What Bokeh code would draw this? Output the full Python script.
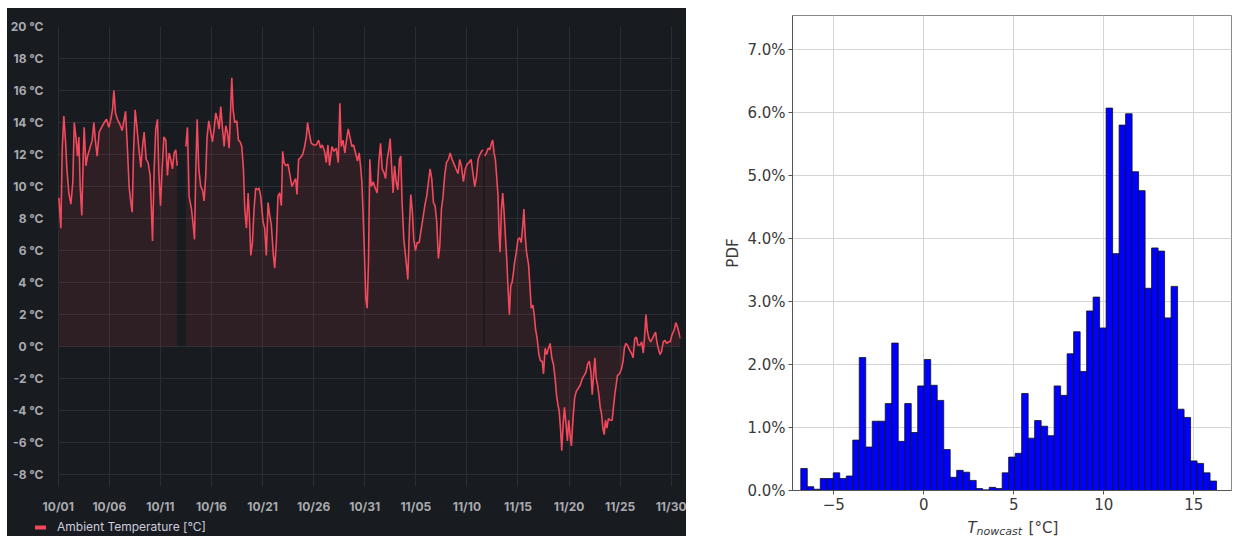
import numpy as np
import pandas as pd
from bokeh.plotting import figure
from bokeh.layouts import row, column
from bokeh.models import (FixedTicker, DatetimeTickFormatter, PrintfTickFormatter,
                          NumeralTickFormatter, Legend, LegendItem, Label, Range1d)
from bokeh.embed import file_html
from bokeh.resources import INLINE

# ---------------- data: ambient temperature time series ----------------
START = pd.Timestamp("2022-10-01")
# offsets in days from 10/01 00:00 ; None = data gap
day_offsets = [
    0.07, 0.26, 0.39, 0.55, 0.72, 0.85, 1.04, 1.24, 1.43, 1.57, 1.73, 1.89, 2.02, 2.15, 2.31, 2.45,
    2.54, 2.71, 2.87, 3.10, 3.33, 3.49, 3.65, 3.81, 4.01, 4.24, 4.50, 4.73, 4.96, 5.15, 5.31, 5.45,
    5.61, 5.80, 6.03, 6.26, 6.46, 6.59, 6.78, 6.94, 7.11, 7.24, 7.37, 7.53, 7.69, 7.89, 8.09, 8.22,
    8.41, 8.61, 8.80, 9.00, 9.13, 9.23, 9.39, 9.55, 9.72, 9.85, 10.01, 10.17, 10.34, 10.53, 10.69,
    10.86, 11.02, 11.18, 11.35, 11.51, 11.64, 12.00,
    12.49, 12.65, 12.81, 13.04, 13.21, 13.34, 13.47, 13.60, 13.76, 13.95, 14.12, 14.28, 14.44,
    14.57, 14.74, 14.93, 15.10, 15.26, 15.42, 15.59, 15.75, 15.91, 16.07, 16.24, 16.40, 16.56,
    16.73, 16.86, 16.99, 17.12, 17.28, 17.48, 17.64, 17.80, 17.97, 18.13, 18.26, 18.42, 18.59,
    18.72, 18.85, 19.01, 19.17, 19.33, 19.50, 19.66, 19.82,
    20.05, 20.21, 20.37, 20.54, 20.70, 20.86, 21.06, 21.19, 21.35, 21.51, 21.68, 21.84, 21.97,
    22.10, 22.30, 22.49, 22.69, 22.88, 23.08, 23.24, 23.37, 23.53, 23.70, 23.93, 24.12, 24.28,
    24.41, 24.58, 24.77, 25.03, 25.26, 25.49, 25.68, 25.85, 26.07, 26.24, 26.40, 26.56, 26.79,
    26.99, 27.21, 27.41, 27.57, 27.70, 27.87, 28.06, 28.22, 28.39, 28.55, 28.75, 28.91, 29.10,
    29.30, 29.46, 29.59, 29.72, 29.85, 29.98, 30.11, 30.24, 30.37, 30.50, 30.64, 30.83, 31.03,
    31.22, 31.38, 31.55, 31.71, 31.87, 32.04, 32.20, 32.36, 32.49, 32.65, 32.78, 32.92, 33.08,
    33.24, 33.40, 33.53, 33.66, 33.83, 33.99, 34.12, 34.22, 34.38, 34.51, 34.67, 34.80, 34.97,
    35.13, 35.33, 35.52, 35.72, 35.88, 36.07, 36.24, 36.40, 36.56, 36.73, 36.89, 37.05, 37.21,
    37.35, 37.51, 37.67, 37.83, 38.00, 38.19, 38.36, 38.55, 38.75, 38.94, 39.14, 39.30, 39.46,
    39.66, 39.85, 40.02, 40.21, 40.41, 40.60, 40.77,
    40.94, 41.10, 41.27, 41.43, 41.59, 41.70, 41.75, 41.92, 42.08, 42.24, 42.40, 42.53, 42.66,
    42.79, 42.92, 43.05, 43.15, 43.25, 43.38, 43.51, 43.64, 43.77, 43.90, 44.03, 44.16, 44.29,
    44.42, 44.55, 44.68, 44.84, 45.00, 45.16, 45.32, 45.49, 45.58, 45.71, 45.84, 46.04, 46.17,
    46.30, 46.46, 46.59, 46.72, 46.88, 47.05, 47.21, 47.37, 47.50, 47.66, 47.82, 47.99, 48.15,
    48.31, 48.47, 48.64, 48.77, 48.90, 49.03, 49.16, 49.29, 49.42, 49.55, 49.71, 49.84, 49.97,
    50.10, 50.23, 50.39, 50.55, 50.71, 50.91, 51.10, 51.30, 51.49, 51.66, 51.82, 51.98, 52.14,
    52.27, 52.40, 52.53, 52.66, 52.79, 52.92, 53.05, 53.18, 53.31, 53.44, 53.57, 53.70, 53.86,
    54.03, 54.22, 54.35, 54.48, 54.61, 54.74, 54.94, 55.13, 55.29, 55.42, 55.55, 55.71, 55.91,
    56.10, 56.27, 56.43, 56.59, 56.75, 56.95, 57.11, 57.27, 57.40, 57.53, 57.66, 57.82, 57.99,
    58.15, 58.31, 58.47, 58.60, 58.73, 58.90, 59.06, 59.22, 59.38, 59.55, 59.74, 59.90, 60.06,
    60.19, 60.32, 60.45, 60.58, 60.75, 60.91,
]
temperatures = [
    9.3, 7.4, 12.3, 14.4, 12.8, 11.1, 9.6, 8.9, 10.3, 14.0, 13.1, 11.9, 13.1, 10.0, 8.2, 11.9,
    13.7, 11.3, 11.9, 12.4, 12.9, 14.0, 12.8, 11.9, 13.4, 13.7, 14.0, 14.2, 13.7, 14.2, 14.8, 16.0,
    14.6, 14.2, 13.9, 13.5, 14.2, 14.7, 12.3, 10.0, 9.0, 8.4, 12.1, 14.8, 13.8, 12.4, 11.2, 12.3,
    13.4, 11.7, 11.5, 10.7, 8.4, 6.6, 11.1, 13.6, 14.2, 10.9, 8.8, 11.1, 13.1, 12.9, 10.7,
    12.1, 11.7, 11.1, 12.1, 12.3, 11.3, None,
    12.5, 13.7, 9.4, 8.6, 7.6, 6.7, 11.1, 14.2, 11.1, 10.0, 9.8, 9.1, 10.7,
    13.1, 14.1, 13.4, 12.8, 13.6, 14.6, 14.2, 13.6, 15.0, 13.7, 12.5, 13.8, 13.4,
    12.4, 14.6, 16.8, 14.8, 14.0, 14.1, 12.9, 12.8, 12.5, 11.1, 8.6, 7.4, 9.6,
    8.0, 5.7, 6.5, 8.6, 9.9, 9.8, 9.9, 9.4,
    7.8, 7.4, 5.7, 9.0, 8.2, 7.6, 5.7, 4.9, 6.5, 9.4, 9.6, 8.8, 12.2,
    11.5, 11.3, 11.4, 10.7, 10.0, 10.3, 10.5, 9.5, 11.7, 11.8, 12.0, 12.5, 13.1,
    14.0, 13.3, 12.7, 12.6, 12.6, 12.9, 12.4, 12.6, 12.2, 11.5, 12.6, 11.3, 12.5,
    12.2, 12.4, 11.5, 15.2, 12.5, 12.9, 12.1, 12.9, 13.6, 13.1, 12.5, 12.6, 12.1,
    11.6, 12.1, 11.3, 10.3, 8.2, 5.7, 3.0, 2.4, 5.3, 11.7, 10.0, 10.3, 9.9,
    9.6, 11.5, 12.7, 11.1, 10.9, 10.5, 11.7, 12.3, 13.0, 11.1, 9.6, 11.3, 10.3,
    9.8, 11.7, 11.9, 9.0, 6.7, 5.7, 4.9, 4.2, 7.6, 9.5, 8.4, 6.7, 6.0,
    6.5, 6.5, 7.3, 8.1, 8.8, 9.4, 10.3, 11.1, 10.5, 9.0, 8.8, 7.8, 5.5,
    6.3, 8.6, 9.4, 10.7, 11.5, 11.7, 12.1, 11.7, 11.4, 11.1, 10.8, 11.7, 11.3,
    10.3, 11.1, 11.4, 11.5, 11.7, 10.8, 10.0,
    10.6, 11.7, 12.0, 12.2, 12.3, None, 11.9, 12.1, 12.4, 12.3, 12.7, 12.9, 12.1,
    11.7, 10.6, 9.4, 7.1, 5.9, 8.6, 9.6, 8.4, 6.9, 5.5, 3.6, 2.0, 3.8,
    4.0, 4.6, 5.3, 5.9, 6.7, 6.8, 6.5, 7.7, 8.6, 6.9, 5.9, 5.1, 3.8,
    2.4, 2.6, 2.0, 1.1, 0.5, -0.5, -0.9, -0.9, -1.7, -0.1, -0.5, -0.1, 0.2,
    -0.7, -1.1, -2.0, -3.0, -3.6, -4.0, -5.1, -6.5, -4.9, -3.8, -4.9, -5.9, -4.6,
    -5.5, -6.2, -4.5, -3.2, -2.8, -2.6, -2.4, -2.0, -1.8, -1.6, -1.1, -0.9, -1.6,
    -3.0, -1.8, -0.7, -2.0, -2.4, -3.0, -3.8, -4.2, -5.1, -5.5, -4.6, -5.1, -4.5,
    -4.6, -4.6, -3.8, -3.0, -2.4, -1.8, -1.7, -1.4, -0.9, -0.1, 0.2, 0.1, -0.2,
    -0.4, -0.7, 0.5, 0.6, 0.1, 0.1, 0.3, -0.4, 0.7, 2.0, 1.0, 0.5, 0.3,
    0.5, 0.7, 0.9, 0.3, -0.1, -0.5, -0.3, 0.3, 0.4, 0.2, 0.3, 0.3, 0.7,
    0.9, 1.1, 1.5, 1.3, 0.9, 0.5,
]
x_tick_dates = ["2022-10-01", "2022-10-06", "2022-10-11", "2022-10-16", "2022-10-21",
                "2022-10-26", "2022-10-31", "2022-11-05", "2022-11-10", "2022-11-15",
                "2022-11-20", "2022-11-25", "2022-11-30"]
temp_ticks = [-8, -6, -4, -2, 0, 2, 4, 6, 8, 10, 12, 14, 16, 18, 20]
series_name = "Ambient Temperature [°C]"

# ---------------- data: histogram of T_nowcast ----------------
bin_first_edge = -6.83
bin_last_edge = 16.26
pdf_percent = [
    0.35, 0.06, 0.02, 0.19, 0.19, 0.28, 0.19, 0.23,
    0.80, 2.11, 0.69, 1.10, 1.10, 1.38, 2.34, 0.78,
    1.38, 0.92, 1.66, 2.08, 1.67, 1.43, 0.65, 0.21,
    0.32, 0.29, 0.16, 0.03, 0.01, 0.05, 0.03, 0.28,
    0.53, 0.59, 1.54, 0.83, 1.11, 1.02, 0.87, 1.66,
    1.51, 2.17, 2.52, 1.89, 2.85, 3.07, 2.58, 6.07,
    3.76, 5.80, 5.98, 5.06, 4.76, 3.21, 3.85, 3.80,
    2.74, 3.24, 1.29, 1.16, 0.47, 0.43, 0.28, 0.15,
]
hist_x_ticks = [-5, 0, 5, 10, 15]
hist_y_ticks = [0.0, 0.01, 0.02, 0.03, 0.04, 0.05, 0.06, 0.07]
x_label_parts = ["T", "nowcast", "[°C]"]


def to_ms(ts):
    return (pd.Timestamp(ts) - pd.Timestamp("1970-01-01")) / pd.Timedelta(milliseconds=1)


RED = "#F2495C"
DARK = "#181b1f"
GRID = "#2b2e33"
INK = "#3a3a3a"

# ---------------- left panel (Grafana style) ----------------
vals = np.array([np.nan if v is None else v for v in temperatures], dtype=float)
times = np.array([to_ms(START) + d * 86400000.0 for d in day_offsets])

p1 = figure(width=679, height=508, output_backend="svg", toolbar_location=None,
            x_range=Range1d(to_ms(START) - 0.07 * 86400000.0, to_ms(START) + 60.91 * 86400000.0),
            y_range=Range1d(-8.74, 20),
            min_border_left=49, min_border_right=6, min_border_top=18, min_border_bottom=26,
            background_fill_color=DARK, border_fill_color=DARK, outline_line_color=None)
p1.margin = (8, 0, 0, 7)
p1.styles = {"background-color": DARK}

good = ~np.isnan(vals)
idx = np.arange(len(vals))
seg_start = 0
for i in list(idx[~good]) + [len(vals)]:
    seg = slice(seg_start, i)
    if i - seg_start > 1:
        p1.varea(x=times[seg], y1=0, y2=vals[seg], fill_color=RED, fill_alpha=0.1)
    seg_start = i + 1

p1.line(times, vals, line_color=RED, line_width=1.6)

xt = FixedTicker(ticks=[to_ms(d) for d in x_tick_dates])
p1.xaxis.ticker = xt
p1.xgrid.ticker = xt
fmt = "%m/%d"
p1.xaxis.formatter = DatetimeTickFormatter(milliseconds=fmt, seconds=fmt, minsec=fmt, minutes=fmt,
                                           hourmin=fmt, hours=fmt, days=fmt, months=fmt, years=fmt)
yt = FixedTicker(ticks=temp_ticks)
p1.yaxis.ticker = yt
p1.ygrid.ticker = yt
p1.yaxis.formatter = PrintfTickFormatter(format="%d °C")
for ax in (p1.xaxis, p1.yaxis):
    ax.axis_line_color = None
    ax.major_tick_line_color = None
    ax.minor_tick_line_color = None
    ax.major_label_text_font = "Inter"
    ax.major_label_text_font_size = "12px"
    ax.major_label_text_font_style = "bold"
    ax.major_label_text_color = "#a9aab0"
p1.xaxis.major_label_standoff = 6
p1.yaxis.major_label_standoff = 8
p1.xgrid.grid_line_color = GRID
p1.ygrid.grid_line_color = GRID

# legend strip under the Grafana panel (no axes: frame = whole strip)
p1_leg = figure(width=679, height=20, output_backend="svg", toolbar_location=None,
                x_range=Range1d(0, 1), y_range=Range1d(0, 1),
                x_axis_location=None, y_axis_location=None,
                min_border_left=0, min_border_right=0, min_border_top=0, min_border_bottom=0,
                background_fill_color=DARK, border_fill_color=DARK, outline_line_color=None)
p1_leg.styles = {"background-color": DARK}
p1_leg.grid.visible = False
# legend proxy: the series itself, drawn far outside this strip's (0..1) view
leg_r = p1_leg.line(times, vals, line_color=RED, line_width=4, line_cap="round")
legend = Legend(items=[LegendItem(label=series_name, renderers=[leg_r])],
                location=(28, 2), padding=0, spacing=0, margin=0,
                glyph_width=11, glyph_height=14, label_height=14, label_standoff=11,
                label_text_font="Inter", label_text_font_size="12px", label_text_color="#ccccdc",
                border_line_alpha=0, background_fill_alpha=0)
p1_leg.add_layout(legend)
leg_box = row(p1_leg, spacing=0)
leg_box.margin = (0, 0, 0, 7)

# ---------------- right panel (matplotlib style histogram) ----------------
edges = np.linspace(bin_first_edge, bin_last_edge, len(pdf_percent) + 1)
pdf = np.array(pdf_percent) / 100.0
hx_range = Range1d(-7.29, 17.09)

p2 = figure(width=547, height=512, output_backend="svg", toolbar_location=None,
            x_range=hx_range, y_range=Range1d(0, 0.0754),
            min_border_left=106, min_border_right=2, min_border_top=15, min_border_bottom=22,
            background_fill_color="white", border_fill_color="white",
            outline_line_color="#8a8a8a", outline_line_width=1)
p2.quad(left=edges[:-1], right=edges[1:], bottom=0, top=pdf,
        fill_color="#0000ff", line_color="#111111", line_width=0.8)

hx = FixedTicker(ticks=hist_x_ticks)
hy = FixedTicker(ticks=hist_y_ticks)
p2.xaxis.ticker = hx
p2.xgrid.ticker = hx
p2.yaxis.ticker = hy
p2.ygrid.ticker = hy
p2.xaxis.major_label_overrides = {t: (f"\u2212{abs(t)}" if t < 0 else str(t)) for t in hist_x_ticks}
p2.yaxis.formatter = NumeralTickFormatter(format="0.0%")
for ax in (p2.xaxis, p2.yaxis):
    ax.axis_line_color = "#555555"
    ax.major_tick_line_color = "#555555"
    ax.major_tick_out = 4
    ax.major_tick_in = 0
    ax.minor_tick_line_color = None
    ax.major_label_text_font = "DejaVu Sans"
    ax.major_label_text_font_size = "15px"
    ax.major_label_text_color = INK
    ax.major_label_standoff = 3
p2.yaxis.axis_label = "PDF"
p2.yaxis.axis_label_text_font = "DejaVu Sans"
p2.yaxis.axis_label_text_font_size = "15px"
p2.yaxis.axis_label_text_font_style = "normal"
p2.yaxis.axis_label_text_color = INK
p2.yaxis.axis_label_standoff = 2
p2.xgrid.grid_line_color = "#d4d4d4"
p2.ygrid.grid_line_color = "#d4d4d4"

# x-axis label strip: T_nowcast [°C]
p2_lab = figure(width=547, height=24, output_backend="svg", toolbar_location=None,
                x_range=hx_range, y_range=Range1d(0, 24),
                x_axis_location=None, y_axis_location=None,
                min_border_left=106, min_border_right=2, min_border_top=0, min_border_bottom=0,
                background_fill_color="white", border_fill_color="white", outline_line_color=None)
p2_lab.grid.visible = False
p2_lab.add_layout(Label(x=2.43, y=8.5, text=x_label_parts[0], text_font="DejaVu Sans",
                        text_font_style="italic", text_font_size="15px", text_color=INK,
                        text_align="left", text_baseline="alphabetic"))
p2_lab.add_layout(Label(x=2.93, y=5.5, text=x_label_parts[1], text_font="DejaVu Sans",
                        text_font_style="italic", text_font_size="11px", text_color=INK,
                        text_align="left", text_baseline="alphabetic"))
p2_lab.add_layout(Label(x=5.82, y=8.5, text=x_label_parts[2], text_font="DejaVu Sans",
                        text_font_size="15px", text_color=INK, text_align="left",
                        text_baseline="alphabetic"))

layout = row(column(p1, leg_box, spacing=0), column(p2, p2_lab, spacing=0), spacing=0)
open("out.html", "w").write(file_html(layout, INLINE))
